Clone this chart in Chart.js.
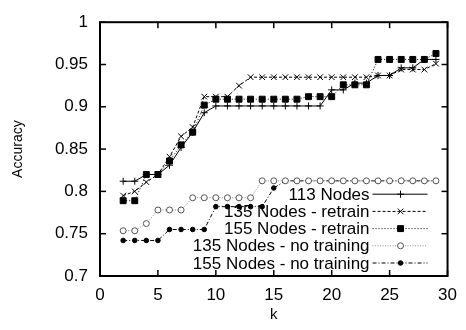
<!DOCTYPE html>
<html>
<head>
<meta charset="utf-8">
<script src="https://cdn.jsdelivr.net/npm/chart.js@4/dist/chart.umd.min.js"></script>
<style>
  html, body { margin: 0; padding: 0; background: #fff; }
  #wrap { width: 466px; height: 330px; }
</style>
</head>
<body>
<div id="wrap"><canvas id="grafico" width="466" height="330"></canvas></div>
<script>
// k values and accuracy per series
const ks = [2,3,4,5,6,7,8,9,10,11,12,13,14,15,16,17,18,19,20,21,22,23,24,25,26,27,28,29];

const nodes113 = [0.812,0.812,0.820,0.820,0.831,0.852,0.870,0.893,
  0.901,0.901,0.901,0.901,0.901,0.901,0.901,0.901,0.901,0.901,
  0.920,0.920,0.928,0.928,0.937,0.937,0.946,0.946,0.956,0.956];

const retrain135 = [0.795,0.800,0.811,0.820,0.841,0.865,0.876,0.912,0.912,0.912,0.925,
  0.935,0.935,0.935,0.935,0.935,0.935,0.935,0.935,0.935,0.935,0.935,
  0.937,0.937,0.944,0.944,0.944,0.951];

const retrain155 = [0.789,0.789,0.820,0.820,0.836,0.855,0.870,0.902,
  0.909,0.909,0.909,0.909,0.909,0.909,0.909,0.909,
  0.912,0.912,0.912,0.926,0.926,0.926,
  0.956,0.956,0.956,0.956,0.956,0.963];

const noTrain135 = [0.7535,0.7535,0.762,0.778,0.778,0.778,
  0.7925,0.7925,0.7925,0.7925,0.7925,0.7925,
  0.8125,0.8125,0.8125,0.8125,0.8125,0.8125,0.8125,0.8125,
  0.8125,0.8125,0.8125,0.8125,0.8125,0.8125,0.8125,0.8125];

const noTrain155 = [0.742,0.742,0.742,0.742,0.755,0.755,0.755,0.755,
  0.782,0.782,0.782,0.782,0.782,0.804,
  0.8125,0.8125,0.8125,0.8125,0.8125,0.8125,0.8125,
  0.8125,0.8125,0.8125,0.8125,0.8125,0.8125,0.8125];

const seriesNames = ["113 Nodes", "135 Nodes - retrain", "155 Nodes - retrain",
  "135 Nodes - no training", "155 Nodes - no training"];

const xTicks = [0,5,10,15,20,25,30];
const yTicks = [0.7,0.75,0.8,0.85,0.9,0.95,1];

const FONT = "'Liberation Sans', Arial, sans-serif";

const pts = arr => ks.map((k, i) => ({ x: k, y: arr[i] }));

const base = {
  borderColor: "#000",
  borderWidth: 1,
  pointBorderColor: "#000",
  pointBackgroundColor: "#000",
  pointBorderWidth: 1,
  tension: 0,
  fill: false
};

const datasets = [
  { ...base, label: seriesNames[0], data: pts(nodes113), pointStyle: "cross", pointRadius: 3.5 },
  { ...base, label: seriesNames[1], data: pts(retrain135), borderDash: [3, 2], pointStyle: "crossRot", pointRadius: 4 },
  { ...base, label: seriesNames[2], data: pts(retrain155), borderDash: [1, 2], pointStyle: "rect", pointRadius: 4.2 },
  { ...base, label: seriesNames[3], data: pts(noTrain135), borderColor: "#888", borderDash: [1, 1.5],
    pointStyle: "circle", pointRadius: 3, pointBackgroundColor: "#fff", pointBorderColor: "#555" },
  { ...base, label: seriesNames[4], data: pts(noTrain155), borderDash: [4, 2, 1, 2], pointStyle: "circle", pointRadius: 2.3 }
];

// box around plot + inward ticks on all sides (gnuplot style)
const frame = {
  id: "frame",
  afterDraw(chart) {
    const { ctx, chartArea: a, scales: { x, y } } = chart;
    const line = (x1, y1, x2, y2) => { ctx.beginPath(); ctx.moveTo(x1, y1); ctx.lineTo(x2, y2); ctx.stroke(); };
    ctx.save();
    ctx.strokeStyle = "#000";
    ctx.lineWidth = 1.5;
    x.ticks.forEach(t => {
      const px = x.getPixelForValue(t.value);
      line(px, a.bottom, px, a.bottom - 6);
      line(px, a.top, px, a.top + 6);
    });
    y.ticks.forEach(t => {
      const py = y.getPixelForValue(t.value);
      line(a.left, py, a.left + 6, py);
      line(a.right, py, a.right - 6, py);
    });
    ctx.lineWidth = 2;
    ctx.strokeRect(a.left, a.top, a.right - a.left, a.bottom - a.top);
    ctx.restore();
  }
};

// key inside plot, bottom right, text right-aligned with sample on the right
const key = {
  id: "key",
  afterDatasetsDraw(chart) {
    const { ctx, chartArea: a } = chart;
    const n = chart.data.datasets.length;
    ctx.save();
    ctx.font = "17px " + FONT;
    ctx.textAlign = "right";
    ctx.textBaseline = "middle";
    chart.data.datasets.forEach((ds, i) => {
      const yy = a.bottom - 13 - (n - 1 - i) * 17.2;
      ctx.fillStyle = "#000";
      ctx.fillText(ds.label, a.right - 78, yy + 1);
      ctx.strokeStyle = ds.borderColor;
      ctx.lineWidth = 1;
      ctx.setLineDash(ds.borderDash || []);
      ctx.beginPath();
      ctx.moveTo(a.right - 75, yy);
      ctx.lineTo(a.right - 20, yy);
      ctx.stroke();
      ctx.setLineDash([]);
      ctx.strokeStyle = ds.pointBorderColor;
      ctx.fillStyle = ds.pointBackgroundColor;
      Chart.helpers.drawPoint(ctx, {
        pointStyle: ds.pointStyle, radius: ds.pointRadius, rotation: 0, borderWidth: 1
      }, a.right - 47, yy);
    });
    ctx.restore();
  }
};

new Chart(document.getElementById("grafico"), {
  type: "scatter",
  data: { datasets: datasets.map(d => ({ ...d, showLine: true })) },
  options: {
    responsive: false,
    animation: false,
    layout: { padding: { top: 14, right: 14, left: 0, bottom: 0 } },
    plugins: { legend: { display: false }, tooltip: { enabled: false } },
    scales: {
      x: {
        type: "linear",
        min: 0, max: 30,
        afterBuildTicks: s => { s.ticks = xTicks.map(v => ({ value: v })); },
        afterFit: s => { s.height = 54; },
        grid: { display: false, drawTicks: false },
        border: { display: false },
        ticks: { color: "#000", font: { family: FONT, size: 17 }, padding: 9, maxRotation: 0 },
        title: { display: true, text: "k", color: "#000", font: { family: FONT, size: 15 }, padding: { top: 0, bottom: 6 } }
      },
      y: {
        type: "linear",
        min: 0.7, max: 1,
        afterBuildTicks: s => { s.ticks = yTicks.map(v => ({ value: v })); },
        afterFit: s => { s.width = 100; },
        grid: { display: false, drawTicks: false },
        border: { display: false },
        ticks: { color: "#000", font: { family: FONT, size: 17 }, padding: 12, callback: v => String(+v.toFixed(2)) },
        title: { display: true, text: "Accuracy", color: "#000", font: { family: FONT, size: 14 }, padding: { top: 10, bottom: 0 } }
      }
    }
  },
  plugins: [frame, key]
});
</script>
</body>
</html>
